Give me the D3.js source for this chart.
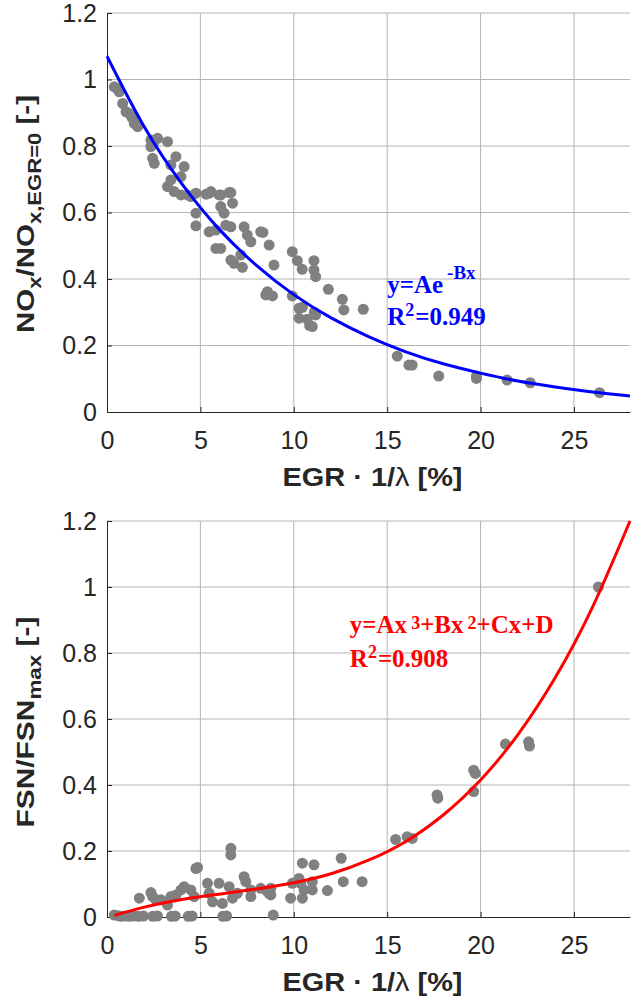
<!DOCTYPE html>
<html>
<head>
<meta charset="utf-8">
<script src="https://cdn.jsdelivr.net/npm/d3@7"></script>
<style>
  body { margin: 0; background: #fff; }
  svg { display: block; }
</style>
</head>
<body>
<svg id="chart" width="641" height="1000"></svg>
<script>
// measured points, [EGR*1/lambda, value]
const noxPoints = [
  [0.39,0.978],[0.55,0.972],[0.66,0.963],[0.84,0.928],[1.02,0.903],[1.19,0.898],[1.3,0.89],[1.37,0.883],
  [1.46,0.868],[1.64,0.858],[2.35,0.818],[2.5,0.81],[2.71,0.823],[3.24,0.813],[2.35,0.798],[2.44,0.763],
  [2.53,0.748],[3.69,0.768],[3.42,0.743],[4.13,0.738],[3.96,0.708],[3.42,0.698],[3.24,0.678],[3.6,0.663],
  [3.96,0.653],[4.31,0.653],[4.49,0.648],[4.76,0.658],[5.3,0.655],[5.47,0.658],[5.56,0.663],[6.0,0.653],
  [6.09,0.653],[6.54,0.66],[6.63,0.66],[6.72,0.628],[6.09,0.618],[6.27,0.598],[4.76,0.598],[4.76,0.56],
  [5.47,0.542],[5.83,0.547],[6.36,0.562],[6.63,0.557],[7.34,0.557],[7.51,0.532],[7.7,0.512],[8.23,0.542],
  [8.35,0.54],[8.68,0.502],[5.83,0.492],[6.09,0.492],[7.16,0.472],[6.63,0.457],[6.8,0.447],[7.25,0.435],
  [8.94,0.442],[9.92,0.482],[10.19,0.455],[10.45,0.429],[11.08,0.455],[11.08,0.427],[11.17,0.407],
  [8.59,0.362],[8.5,0.352],[8.86,0.349],[9.92,0.349],[11.85,0.369],[12.6,0.339],[12.68,0.307],[13.72,0.309],
  [10.28,0.312],[10.46,0.315],[10.28,0.282],[10.72,0.279],[10.99,0.257],[11.17,0.292],[10.85,0.26],[11.1,0.3],
  [15.54,0.168],[16.16,0.141],[16.34,0.141],[17.76,0.108],[19.78,0.108],[19.78,0.101],[21.42,0.096],
  [22.66,0.088],[26.37,0.058]
];

const fsnPoints = [
  [0.39,0.006],[0.6,0.004],[0.75,0.002],[1.0,0.003],[1.2,0.002],[1.45,0.003],[1.7,0.002],[1.95,0.003],
  [2.45,0.002],[2.7,0.003],[3.45,0.002],[3.65,0.003],[4.35,0.002],[4.55,0.003],[6.2,0.002],[6.4,0.003],
  [8.9,0.006],[1.73,0.057],[2.35,0.074],[2.44,0.062],[2.62,0.052],[2.89,0.052],[3.24,0.036],[3.42,0.062],
  [3.69,0.067],[3.96,0.082],[4.13,0.092],[4.49,0.082],[4.67,0.062],[4.76,0.147],[4.85,0.15],[5.38,0.102],
  [5.47,0.072],[5.65,0.046],[6.0,0.102],[6.18,0.041],[6.54,0.092],[6.63,0.208],[6.63,0.188],[6.72,0.057],
  [6.98,0.072],[7.34,0.122],[7.43,0.107],[7.7,0.062],[7.7,0.082],[8.23,0.087],[8.59,0.077],[8.68,0.072],
  [8.77,0.087],[8.77,0.067],[9.83,0.057],[9.92,0.102],[10.28,0.117],[10.37,0.102],[10.46,0.057],
  [10.46,0.163],[10.55,0.082],[10.99,0.107],[11.08,0.158],[10.99,0.082],[11.8,0.08],[12.54,0.178],
  [12.65,0.107],[13.66,0.107],[15.45,0.235],[16.07,0.243],[16.34,0.238],[17.67,0.37],[17.71,0.36],
  [19.63,0.445],[19.72,0.435],[19.63,0.38],[21.33,0.524],[22.57,0.531],[22.62,0.518],[26.31,1.0]
];

// fitted curves
const noxFitX = [0,2,4,6,8,10,12,14,16,18,20,22,24,26,28];
const noxFitY = [1.07,0.857,0.687,0.55,0.441,0.353,0.283,0.227,0.181,0.145,0.117,0.093,0.075,0.06,0.048];
const fsnFitX = [0.4,2,4,6,8,10,12,14,16,18,20,22,24,26,28];
const fsnFitY = [0.005,0.03,0.053,0.069,0.085,0.104,0.131,0.172,0.229,0.309,0.415,0.553,0.726,0.94,1.2];

const xTicks = [0,5,10,15,20,25];
const yTicks = [0,0.2,0.4,0.6,0.8,1,1.2];

const sans = '"Liberation Sans", Arial, Helvetica, sans-serif';
const serif = '"Liberation Serif", "Times New Roman", serif';
const axisColor = '#262626';

const svg = d3.select('#chart');
const x = d3.scaleLinear().domain([0, 28]).range([107, 630]);

// place parts of a TeX-like string one after another
const putParts = (g, px, py, parts, color) => {
  let cx = px;
  for (const p of parts) {
    const t = g.append('text')
      .attr('x', cx + (p.gap || 0))
      .attr('y', py - (p.raise || 0))
      .style('font-family', serif)
      .style('font-weight', 'bold')
      .style('font-size', (p.size || 25) + 'px')
      .style('fill', color)
      .text(p.t);
    cx += (p.gap || 0) + t.node().getComputedTextLength();
  }
};

const drawPanel = (top, bottom, points, fitX, fitY, color, opts) => {
  const y = d3.scaleLinear().domain([0, 1.2]).range([bottom, top]);
  const g = svg.append('g');

  // grid
  g.append('g').selectAll('line.v')
    .data(xTicks.filter(d => d > 0))
    .join('line')
    .attr('x1', d => x(d)).attr('x2', d => x(d))
    .attr('y1', y(0)).attr('y2', y(1.2))
    .attr('stroke', '#b4b4b4').attr('stroke-width', 1);
  g.append('g').selectAll('line.h')
    .data(yTicks.filter(d => d > 0))
    .join('line')
    .attr('x1', x(0)).attr('x2', x(28))
    .attr('y1', d => y(d)).attr('y2', d => y(d))
    .attr('stroke', '#b4b4b4').attr('stroke-width', 1);

  // axes
  const xAxis = g.append('g')
    .attr('transform', `translate(0,${y(0)})`)
    .call(d3.axisBottom(x).tickValues(xTicks).tickFormat(d3.format('d'))
      .tickSize(-5).tickSizeOuter(0).tickPadding(19));
  const yAxis = g.append('g')
    .attr('transform', `translate(${x(0)},0)`)
    .call(d3.axisLeft(y).tickValues(yTicks).tickFormat(d => String(+d.toFixed(1)))
      .tickSize(-5).tickSizeOuter(0).tickPadding(10));
  for (const a of [xAxis, yAxis]) {
    a.selectAll('path, line').attr('stroke', axisColor);
    a.selectAll('text')
      .style('font-family', sans)
      .style('font-size', '25px')
      .style('fill', axisColor);
  }

  // points
  g.append('g').selectAll('circle')
    .data(points)
    .join('circle')
    .attr('cx', d => x(d[0]))
    .attr('cy', d => y(d[1]))
    .attr('r', 5.5)
    .attr('fill', '#808080');

  // fit
  const line = d3.line()
    .x(i => x(fitX[i]))
    .y(i => y(fitY[i]))
    .curve(d3.curveNatural);
  g.append('path')
    .attr('d', line(d3.range(fitX.length)))
    .attr('fill', 'none')
    .attr('stroke', color)
    .attr('stroke-width', 3);

  // x label
  const xl = g.append('text')
    .attr('x', (x(0) + x(28)) / 2 + 4)
    .attr('y', y(0) + 74)
    .attr('text-anchor', 'middle')
    .attr('textLength', 180)
    .attr('lengthAdjust', 'spacingAndGlyphs')
    .style('font-family', sans)
    .style('font-weight', 'bold')
    .style('font-size', '26px')
    .style('fill', axisColor);
  xl.append('tspan').text('EGR \u00b7 1/');
  xl.append('tspan').style('font-weight', 'normal').text('\u03bb');
  xl.append('tspan').text(' [%]');

  // y label
  const yl = g.append('text')
    .attr('transform', `translate(34,${opts.yLabelMid}) rotate(-90)`)
    .attr('text-anchor', 'middle')
    .attr('textLength', opts.yLabelLen)
    .attr('lengthAdjust', 'spacingAndGlyphs')
    .style('font-family', sans)
    .style('font-weight', 'bold')
    .style('font-size', '24px')
    .style('fill', axisColor);
  for (const p of opts.yLabel) {
    const ts = yl.append('tspan').text(p.t);
    if (p.sub) ts.attr('dy', 7).style('font-size', '18px');
    else if (p.back) ts.attr('dy', -7);
  }

  // annotation
  const [ax, ay] = opts.noteAt;
  putParts(g, x(ax), y(ay), opts.note1, color);
  putParts(g, x(ax), y(ay) + opts.lineGap, opts.note2, color);
};

drawPanel(13, 412, noxPoints, noxFitX, noxFitY, '#0000ff', {
  yLabel: [{ t: 'NO' }, { t: 'x', sub: true }, { t: '/NO', back: true }, { t: 'x,EGR=0', sub: true }, { t: ' [-]', back: true }],
  yLabelMid: 214,
  yLabelLen: 238,
  noteAt: [15, 0.358],
  lineGap: 32,
  note1: [{ t: 'y=Ae' }, { t: '-Bx', size: 19, raise: 14, gap: 4 }],
  note2: [{ t: 'R' }, { t: '2', size: 18, raise: 9 }, { t: '=0.949', gap: 1 }]
});

drawPanel(521, 917, fsnPoints, fsnFitX, fsnFitY, '#ff0000', {
  yLabel: [{ t: 'FSN/FSN' }, { t: 'max', sub: true }, { t: ' [-]', back: true }],
  yLabelMid: 722,
  yLabelLen: 211,
  noteAt: [13, 0.86],
  lineGap: 34,
  note1: [{ t: 'y=Ax' }, { t: '3', size: 18, raise: 4, gap: 4 }, { t: '+Bx' }, { t: '2', size: 18, raise: 4, gap: 4 }, { t: '+Cx+D' }],
  note2: [{ t: 'R' }, { t: '2', size: 18, raise: 9 }, { t: '=0.908', gap: 1 }]
});
</script>
</body>
</html>
